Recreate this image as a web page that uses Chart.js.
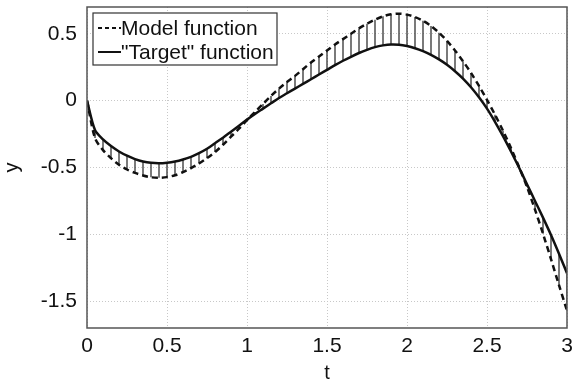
<!DOCTYPE html>
<html>
<head>
<meta charset="utf-8">
<script src="https://cdn.jsdelivr.net/npm/chart.js@4"></script>
<style>
  html, body { margin: 0; padding: 0; background: #fff; }
  #wrap { width: 577px; height: 385px; position: relative; }
</style>
</head>
<body>
<div id="wrap"><canvas id="cht"></canvas></div>
<script>
// sample points (t) every 0.05
const tValues = [0, 0.05, 0.1, 0.15, 0.2, 0.25, 0.3, 0.35, 0.4, 0.45,
  0.5, 0.55, 0.6, 0.65, 0.7, 0.75, 0.8, 0.85, 0.9, 0.95,
  1, 1.05, 1.1, 1.15, 1.2, 1.25, 1.3, 1.35, 1.4, 1.45,
  1.5, 1.55, 1.6, 1.65, 1.7, 1.75, 1.8, 1.85, 1.9, 1.95,
  2, 2.05, 2.1, 2.15, 2.2, 2.25, 2.3, 2.35, 2.4, 2.45,
  2.5, 2.55, 2.6, 2.65, 2.7, 2.75, 2.8, 2.85, 2.9, 2.95, 3];

// dashed curve
const modelValues = [0, -0.28, -0.37, -0.43, -0.48, -0.515, -0.54, -0.56, -0.573, -0.577,
  -0.572, -0.558, -0.535, -0.505, -0.47, -0.43, -0.385, -0.33, -0.27, -0.21,
  -0.145, -0.085, -0.025, 0.035, 0.09, 0.14, 0.185, 0.235, 0.285, 0.33,
  0.375, 0.42, 0.46, 0.5, 0.54, 0.575, 0.605, 0.63, 0.645, 0.65,
  0.643, 0.625, 0.597, 0.558, 0.508, 0.447, 0.375, 0.295, 0.207, 0.11,
  0.005, -0.105, -0.225, -0.355, -0.495, -0.645, -0.815, -0.995, -1.185, -1.38, -1.57];

// solid curve
const targetValues = [0, -0.22, -0.29, -0.34, -0.38, -0.412, -0.437, -0.455, -0.465, -0.468,
  -0.464, -0.455, -0.44, -0.42, -0.393, -0.36, -0.318, -0.277, -0.232, -0.187,
  -0.142, -0.1, -0.06, -0.02, 0.02, 0.055, 0.09, 0.125, 0.16, 0.195,
  0.23, 0.265, 0.298, 0.328, 0.356, 0.38, 0.4, 0.413, 0.42, 0.418,
  0.408, 0.392, 0.37, 0.342, 0.308, 0.268, 0.22, 0.165, 0.1, 0.025,
  -0.06, -0.158, -0.265, -0.38, -0.5, -0.625, -0.75, -0.875, -1.005, -1.145, -1.29];

const seriesNames = ['Model function', '"Target" function'];
const xTicks = [0, 0.5, 1, 1.5, 2, 2.5, 3];
const yTicks = [-1.5, -1, -0.5, 0, 0.5];

const fontFam = 'Arial, "Liberation Sans", Helvetica, sans-serif';

function toPoints(ys) {
  return tValues.map((t, i) => ({ x: t, y: ys[i] }));
}

// vertical segments between the two curves
const diffPts = [];
tValues.forEach((t, i) => {
  diffPts.push({ x: t, y: modelValues[i] });
  diffPts.push({ x: t, y: targetValues[i] });
  diffPts.push({ x: t, y: null });
});

// box around plot + legend inside
const framePlugin = {
  id: 'frame',
  afterDraw(chart) {
    const ctx = chart.ctx, a = chart.chartArea;
    ctx.save();
    ctx.strokeStyle = '#555';
    ctx.lineWidth = 1.5;
    ctx.strokeRect(a.left, a.top, a.right - a.left, a.bottom - a.top);

    // legend
    const bx = 93, by = 13, bw = 184, bh = 52;
    ctx.fillStyle = '#fff';
    ctx.fillRect(bx, by, bw, bh);
    ctx.strokeStyle = '#333';
    ctx.lineWidth = 1.2;
    ctx.strokeRect(bx, by, bw, bh);
    ctx.font = '21px ' + fontFam;
    ctx.fillStyle = '#111';
    ctx.textBaseline = 'middle';
    const rows = [{ y: 28, dash: [4, 3] }, { y: 52, dash: [] }];
    rows.forEach((r, i) => {
      ctx.beginPath();
      ctx.setLineDash(r.dash);
      ctx.lineWidth = 2;
      ctx.strokeStyle = '#111';
      ctx.moveTo(98, r.y);
      ctx.lineTo(121, r.y);
      ctx.stroke();
      ctx.setLineDash([]);
      ctx.fillText(seriesNames[i], 121, r.y + 1);
    });
    ctx.restore();
  }
};

new Chart('cht', {
  type: 'line',
  data: {
    datasets: [
      {
        label: seriesNames[0],
        data: toPoints(modelValues),
        borderColor: '#111',
        borderWidth: 2.5,
        borderDash: [6, 4],
        pointRadius: 0,
        tension: 0.3
      },
      {
        label: seriesNames[1],
        data: toPoints(targetValues),
        borderColor: '#111',
        borderWidth: 2.5,
        pointRadius: 0,
        tension: 0.3
      },
      {
        label: 'diff',
        data: diffPts,
        borderColor: '#333',
        borderWidth: 1.3,
        pointRadius: 0,
        spanGaps: false
      }
    ]
  },
  options: {
    responsive: true,
    maintainAspectRatio: false,
    animation: false,
    layout: { padding: { top: 7, right: 10, left: 0, bottom: 0 } },
    plugins: {
      legend: { display: false },
      tooltip: { enabled: false }
    },
    scales: {
      x: {
        type: 'linear',
        min: 0,
        max: 3,
        afterBuildTicks: s => { s.ticks = xTicks.map(v => ({ value: v })); },
        afterFit: s => { s.height = 57; s.paddingLeft = 0; s.paddingRight = 0; },
        grid: { color: '#c8c8c8', lineWidth: 1, drawTicks: false },
        border: { display: false, dash: [1, 2] },
        ticks: {
          padding: 6,
          color: '#111',
          font: { family: fontFam, size: 21 },
          callback: v => String(v)
        },
        title: {
          display: true,
          text: 't',
          color: '#111',
          font: { family: fontFam, size: 20 },
          padding: { top: 0, bottom: 0 }
        }
      },
      y: {
        min: -1.7,
        max: 0.7,
        afterBuildTicks: s => { s.ticks = yTicks.map(v => ({ value: v })); },
        afterFit: s => { s.width = 87; s.paddingTop = 0; s.paddingBottom = 0; },
        grid: { color: '#c8c8c8', lineWidth: 1, drawTicks: false },
        border: { display: false, dash: [1, 2] },
        ticks: {
          padding: 10,
          color: '#111',
          font: { family: fontFam, size: 21 },
          callback: v => String(v)
        },
        title: {
          display: true,
          text: 'y',
          color: '#111',
          font: { family: fontFam, size: 20 },
          padding: { top: 0, bottom: 2 }
        }
      }
    }
  },
  plugins: [framePlugin]
});
</script>
</body>
</html>
